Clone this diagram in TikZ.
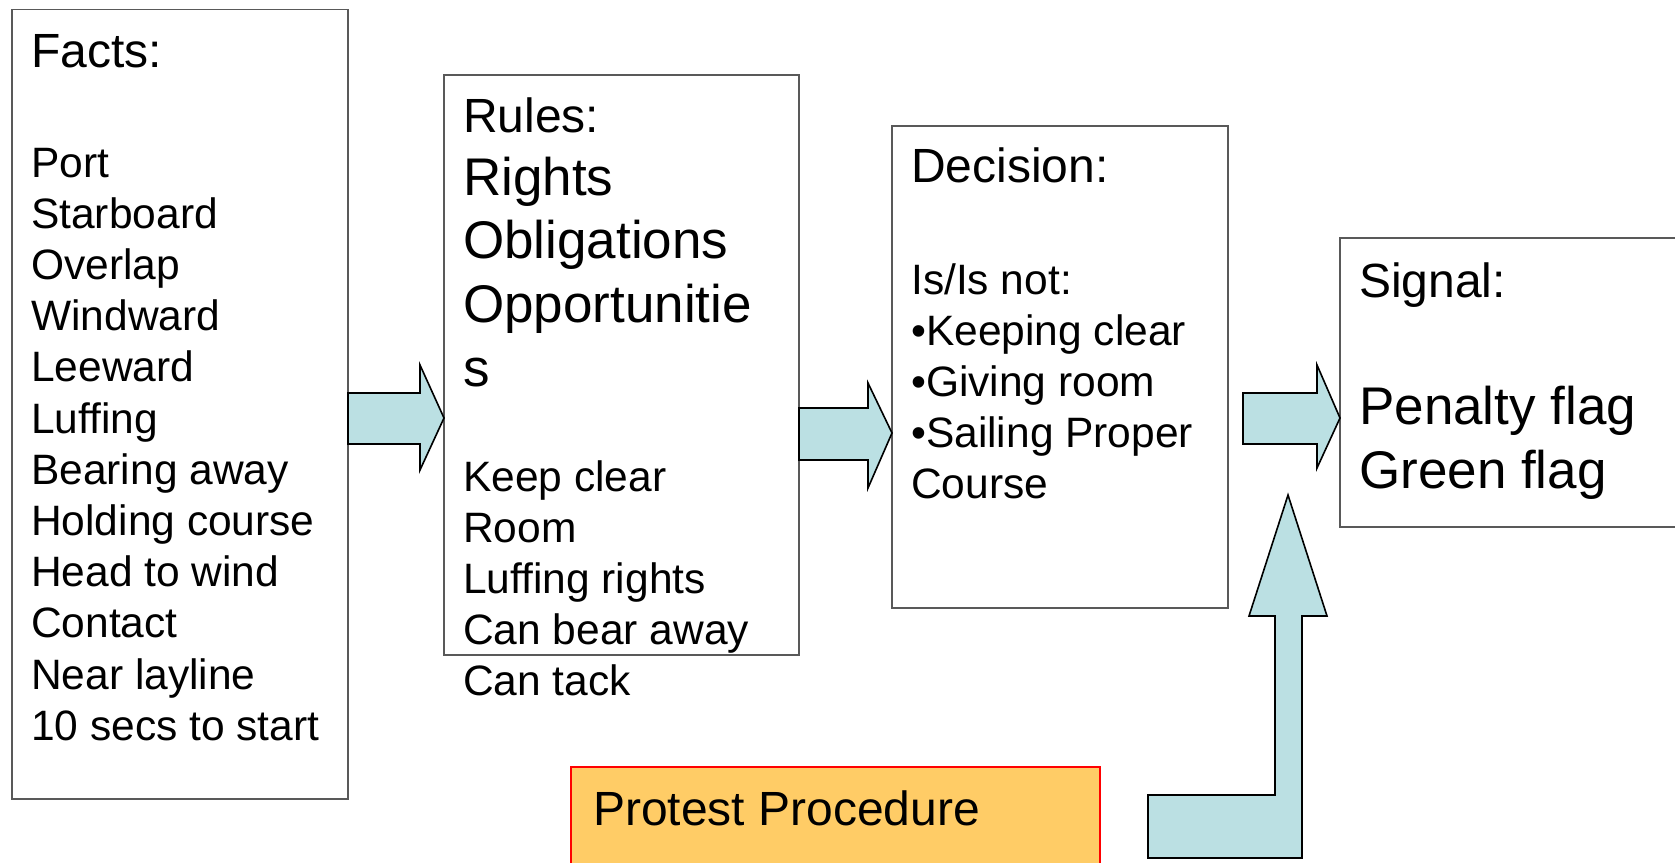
\documentclass[tikz,border=0pt]{standalone}
\usepackage{fontspec}
\setmainfont{Liberation Sans}
\definecolor{boxline}{HTML}{595959}
\definecolor{arrowfill}{HTML}{BBE0E3}
\definecolor{protestfill}{HTML}{FFCC66}
\begin{document}
\begin{tikzpicture}[x=1pt,y=-1pt,
  box/.style={draw=boxline, line width=1.6pt, fill=white, inner sep=0pt, outer sep=0pt, anchor=north west},
  blockarrow/.style={draw=black, line width=1.6pt, fill=arrowfill, line join=miter},
  headtxt/.style={font=\fontsize{48}{55}\selectfont, anchor=base west, inner sep=0pt},
  itemtxt/.style={font=\fontsize{42.5}{51}\selectfont, anchor=base west, inner sep=0pt},
  bigtxt/.style={font=\fontsize{53}{60}\selectfont, anchor=base west, inner sep=0pt}]
\useasboundingbox (0,0) rectangle (1675,862);
\clip (0,0) rectangle (1675,862);

% boxes
\node[box, minimum width=336pt, minimum height=789.5pt] (facts) at (12,9.5) {};
\node[box, minimum width=355pt, minimum height=580pt] (rules) at (444,75) {};
\node[box, minimum width=336pt, minimum height=482pt] (decision) at (892,126) {};
\node[box, minimum width=345pt, minimum height=289pt] (signal) at (1340,238) {};
\node[box, draw=red, fill=protestfill, minimum width=529pt, minimum height=110pt] (protest) at (571,767) {};

% block arrows
\draw[blockarrow] (facts.east |- 0,393) -- (420,393) -- (420,365) -- (rules.west |- 0,418)
  -- (420,470) -- (420,444) -- (facts.east |- 0,444) -- cycle;
\draw[blockarrow] (rules.east |- 0,408) -- (868,408) -- (868,383) -- (decision.west |- 0,433)
  -- (868,488) -- (868,460) -- (rules.east |- 0,460) -- cycle;
\draw[blockarrow] (1243,393) -- (1317,393) -- (1317,365) -- (signal.west |- 0,418)
  -- (1317,468) -- (1317,444) -- (1243,444) -- cycle;
\coordinate (uptip) at (1288,495);
\draw[blockarrow] (uptip) -- (1327,616) -- (1302,616) -- (1302,858) -- (1148,858)
  -- (1148,795) -- (1275,795) -- (1275,616) -- (1249,616) -- cycle;

% Facts text
\node[headtxt] (factshead) at (31,67) {Facts:};
\foreach \t [count=\i from 0] in {Port,Starboard,Overlap,Windward,Leeward,Luffing,Bearing away,Holding course,Head to wind,Contact,Near layline,10 secs to start}
  \node[itemtxt] (fact\i) at (31,{177+51.2*\i}) {\t};

% Rules text
\node[headtxt] (ruleshead) at (463,132) {Rules:};
\foreach \t [count=\i from 0] in {Rights,Obligations,Opportunitie,s}
  \node[bigtxt] (rulebig\i) at (463,{195+63.8*\i}) {\t};
\foreach \t [count=\i from 0] in {Keep clear,Room,Luffing rights,Can bear away,Can tack}
  \node[itemtxt] (rule\i) at (463,{491+51*\i}) {\t};

% Decision text
\node[headtxt] (decisionhead) at (911,182) {Decision:};
\foreach \t [count=\i from 0] in {Is/Is not:,•Keeping clear,•Giving room,•Sailing Proper,Course}
  \node[itemtxt] (dec\i) at (911,{294+51*\i}) {\t};

% Signal text
\node[headtxt] (signalhead) at (1359,297) {Signal:};
\node[bigtxt] (penalty) at (1359,424) {Penalty flag};
\node[bigtxt] (green) at (1359,488) {Green flag};

% Protest text
\node[headtxt] (protesttxt) at (593,825) {Protest Procedure};
\end{tikzpicture}
\end{document}
